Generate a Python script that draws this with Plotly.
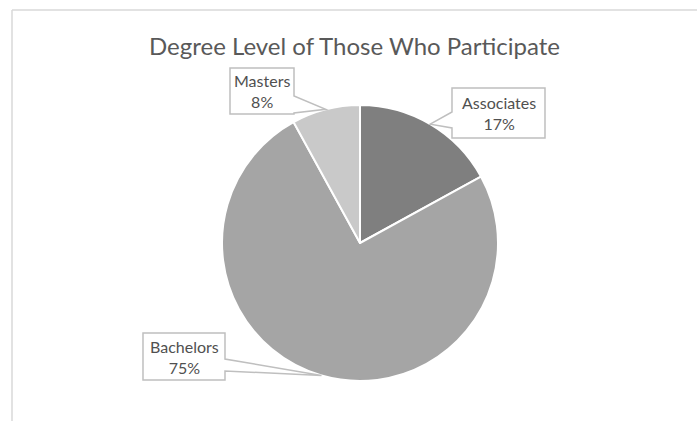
import math
import plotly.graph_objects as go

# Degree distribution of participants
categories = ["Associates", "Bachelors", "Masters"]
values = [17, 75, 8]
colors = ["#7f7f7f", "#a5a5a5", "#c9c9c9"]
title_text = "Degree Level of Those Who Participate"

W, H = 697, 421
CX, CY, R = 360, 243, 138  # pie centre and radius in pixels


def px(x):
    return x / W


def py(y):
    return 1 - y / H


fig = go.Figure(
    go.Pie(
        labels=categories,
        values=values,
        sort=False,
        direction="clockwise",
        rotation=0,
        marker=dict(colors=colors, line=dict(color="white", width=2)),
        textinfo="none",
        hoverinfo="label+percent",
        domain=dict(x=[px(CX - R), px(CX + R)], y=[py(CY + R), py(CY - R)]),
        showlegend=False,
    )
)


def edge_point(frac):
    # point on the pie rim at a given cumulative fraction (clockwise from 12 o'clock)
    a = 2 * math.pi * frac
    return CX + R * math.sin(a), CY - R * math.cos(a)


total = sum(values)
mids = []
acc = 0
for v in values:
    mids.append((acc + v / 2) / total)
    acc += v

# callout boxes: (left, top, right, bottom, side of wedge, wedge y0, wedge y1)
boxes = {
    "Associates": (452, 88, 545, 138, "left", 112, 128),
    "Bachelors": (143, 333, 225, 380, "right", 359, 371),
    "Masters": (230, 68, 294, 114, "right", 96, 113),
}

shapes = []
annotations = []
for name, v, m in zip(categories, values, mids):
    l, t, r, b, side, w0, w1 = boxes[name]
    tx, ty = edge_point(m)
    if side == "right":
        pts = [(l, t), (r, t), (r, w0), (tx, ty), (r, w1), (r, b), (l, b)]
    else:
        pts = [(l, t), (r, t), (r, b), (l, b), (l, w1), (tx, ty), (l, w0)]
    path = "M " + " L ".join(f"{px(x):.5f},{py(y):.5f}" for x, y in pts) + " Z"
    shapes.append(
        dict(type="path", xref="paper", yref="paper", path=path,
             fillcolor="white", line=dict(color="#bfbfbf", width=1.5), layer="above")
    )
    pct = round(100 * v / total)
    annotations.append(
        dict(x=px((l + r) / 2), y=py((t + b) / 2), xref="paper", yref="paper",
             text=f"{name}<br>{pct}%", showarrow=False,
             font=dict(family="Lato, Open Sans, sans-serif", size=16, color="#505050"),
             xanchor="center", yanchor="middle", align="center")
    )

# chart area frame
shapes.append(dict(type="line", xref="paper", yref="paper", x0=px(12), x1=1.01,
                   y0=py(10), y1=py(10), line=dict(color="#d9d9d9", width=1.5)))
shapes.append(dict(type="line", xref="paper", yref="paper", x0=px(12), x1=px(12),
                   y0=py(10), y1=-0.01, line=dict(color="#d9d9d9", width=1.5)))

annotations.append(
    dict(x=px(355), y=py(45), xref="paper", yref="paper", text=title_text,
         showarrow=False, xanchor="center", yanchor="middle",
         font=dict(family="Lato, Open Sans, sans-serif", size=24, color="#595959"))
)

fig.update_layout(
    width=W, height=H,
    margin=dict(l=0, r=0, t=0, b=0),
    paper_bgcolor="white",
    plot_bgcolor="white",
    shapes=shapes,
    annotations=annotations,
)

fig.write_html("out.html")
